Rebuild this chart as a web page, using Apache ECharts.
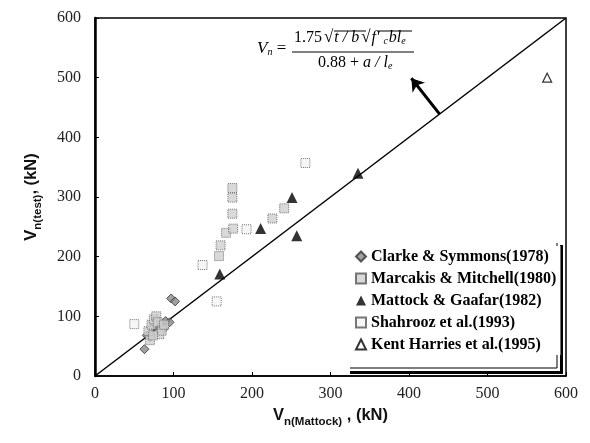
<!DOCTYPE html>
<html><head><meta charset="utf-8">
<script src="https://cdn.jsdelivr.net/npm/echarts@6/dist/echarts.min.js"></script>
<style>html,body{margin:0;padding:0;background:#fff}#c{width:590px;height:443px}</style>
</head><body><div id="c"></div>
<script>
const xTicks = [0, 100, 200, 300, 400, 500, 600];
const yTicks = [0, 100, 200, 300, 400, 500, 600];
const clarke = [[63,45],[97,130],[102,125],[70,65],[75,72],[80,78],[85,86],[90,92],[95,90],[78,96],[72,80],[66,68],[88,80]];
const marcakis = [[68,75],[72,86],[75,95],[78,100],[80,90],[82,70],[85,76],[70,60],[74,68],[88,86],
  [158,201],[160,219],[167,240],[176,247],[175,272],[175,299],[175,315],[226,264],[241,281]];
const mattock = [[159,171],[211,247],[251,299],[257,235],[335,340]];
const shahrooz = [[50,87],[155,125],[137,186],[193,246],[268,357]];
const kent = [[576,500]];
const equality = [[0,0],[600,600]];
const arrow = [[439,439],[403,499]];
const legendNames = ['Clarke & Symmons(1978)','Marcakis & Mitchell(1980)','Mattock & Gaafar(1982)','Shahrooz et al.(1993)','Kent Harries et al.(1995)'];

const chart = echarts.init(document.getElementById('c'));
const serif = 'Liberation Serif';
const sans = 'Liberation Sans';
const titleRich = {
  a:{fontFamily:sans, fontWeight:'bold', fontSize:16.5, color:'#111', verticalAlign:'bottom', lineHeight:20},
  b:{fontFamily:sans, fontWeight:'bold', fontSize:11.5, color:'#111', verticalAlign:'bottom', lineHeight:14, padding:[0,0,-4,0]}
};
chart.setOption({
  animation:false,
  backgroundColor:'#fff',
  grid:{left:95, top:18, width:471, height:358, show:true, borderColor:'#000', borderWidth:1.5, backgroundColor:'transparent'},
  xAxis:{type:'value', min:xTicks[0], max:xTicks[xTicks.length-1], interval:100,
    axisLine:{lineStyle:{color:'#000', width:1.5}}, splitLine:{show:false},
    axisTick:{inside:true, length:4, lineStyle:{color:'#000'}},
    axisLabel:{fontFamily:serif, fontSize:16, color:'#222', margin:10},
    name:'{a|V}{b|n(Mattock)}{a| , (kN)}', nameLocation:'middle', nameGap:28,
    nameTextStyle:{rich:titleRich}},
  yAxis:{type:'value', min:yTicks[0], max:yTicks[yTicks.length-1], interval:100,
    axisLine:{lineStyle:{color:'#000', width:2.5}}, splitLine:{show:false},
    axisTick:{inside:true, length:4, lineStyle:{color:'#000'}},
    axisLabel:{fontFamily:serif, fontSize:16, color:'#222', margin:14},
    name:'{a|V}{b|n(test)}{a|, (kN)}', nameLocation:'middle', nameGap:55,
    nameTextStyle:{rich:titleRich}},
  legend:{left:350, top:246, orient:'vertical', itemGap:5, itemWidth:10, itemHeight:10,
    backgroundColor:'#fff', borderWidth:0, padding:[2,4,2,5],
    textStyle:{fontFamily:serif, fontWeight:'bold', fontSize:16, color:'#000', lineHeight:17},
    data:legendNames},
  series:[
    {type:'line', data:equality, symbol:'none', lineStyle:{color:'#000', width:1.5}, silent:true, z:1},
    {type:'lines', coordinateSystem:'cartesian2d', data:[{coords:arrow}], symbol:['none','arrow'], symbolSize:12,
      lineStyle:{color:'#000', width:3, opacity:1}, silent:true},
    {name:legendNames[0], type:'scatter', data:clarke, symbol:'diamond', symbolSize:9,
      itemStyle:{color:'#8a8a8a', borderColor:'#333', borderWidth:1}},
    {name:legendNames[1], type:'scatter', data:marcakis, symbol:'rect', symbolSize:9,
      itemStyle:{color:'#cfcfcf', borderColor:'#555', borderWidth:1, borderType:'dotted'}},
    {name:legendNames[2], type:'scatter', data:mattock, symbol:'triangle', symbolSize:11,
      itemStyle:{color:'#000'}},
    {name:legendNames[3], type:'scatter', data:shahrooz, symbol:'rect', symbolSize:9,
      itemStyle:{color:'#f4f4f4', borderColor:'#555', borderWidth:1, borderType:'dotted'}},
    {name:legendNames[4], type:'scatter', data:kent, symbol:'triangle', symbolSize:9,
      itemStyle:{color:'#fff', borderColor:'#000', borderWidth:1.2}}
  ],
  graphic:[
    {type:'line', shape:{x1:557, y1:243, x2:557, y2:368}, style:{stroke:'#000', lineWidth:1}},
    {type:'line', shape:{x1:561.5, y1:245, x2:561.5, y2:373}, style:{stroke:'#000', lineWidth:3}},
    {type:'line', shape:{x1:350, y1:368, x2:557, y2:368}, style:{stroke:'#000', lineWidth:1}},
    {type:'line', shape:{x1:350, y1:372.5, x2:563, y2:372.5}, style:{stroke:'#000', lineWidth:3}},
    {type:'text', left:257, top:40, style:{text:'{v|V}{s|n}{e| =}', rich:{
      v:{fontFamily:serif, fontStyle:'italic', fontSize:17, fill:'#000'},
      s:{fontFamily:serif, fontStyle:'italic', fontSize:10, fill:'#000', padding:[8,0,0,0]},
      e:{fontFamily:serif, fontSize:17, fill:'#000'}}}},
    {type:'text', left:294, top:29, style:{text:'{n|1.75}{r|√}{i|t / b}{r|√}{i|f\' }{s|c}{i|bl}{s|e}', rich:{
      n:{fontFamily:serif, fontSize:16, fill:'#000'},
      r:{fontFamily:serif, fontSize:17, fill:'#000', padding:[0,1,0,2]},
      i:{fontFamily:serif, fontStyle:'italic', fontSize:16, fill:'#000'},
      s:{fontFamily:serif, fontStyle:'italic', fontSize:10, fill:'#000', padding:[7,1,0,0]}}}},
    {type:'line', shape:{x1:334, y1:31, x2:366, y2:31}, style:{stroke:'#000', lineWidth:1}},
    {type:'line', shape:{x1:378, y1:31, x2:412, y2:31}, style:{stroke:'#000', lineWidth:1}},
    {type:'line', shape:{x1:292, y1:52, x2:414, y2:52}, style:{stroke:'#000', lineWidth:1}},
    {type:'text', left:318, top:55, style:{text:'{n|0.88 + }{i|a / l}{s|e}', rich:{
      n:{fontFamily:serif, fontSize:16, fill:'#000'},
      i:{fontFamily:serif, fontStyle:'italic', fontSize:16, fill:'#000'},
      s:{fontFamily:serif, fontStyle:'italic', fontSize:10, fill:'#000', padding:[7,0,0,0]}}}}
  ]
});
</script></body></html>
